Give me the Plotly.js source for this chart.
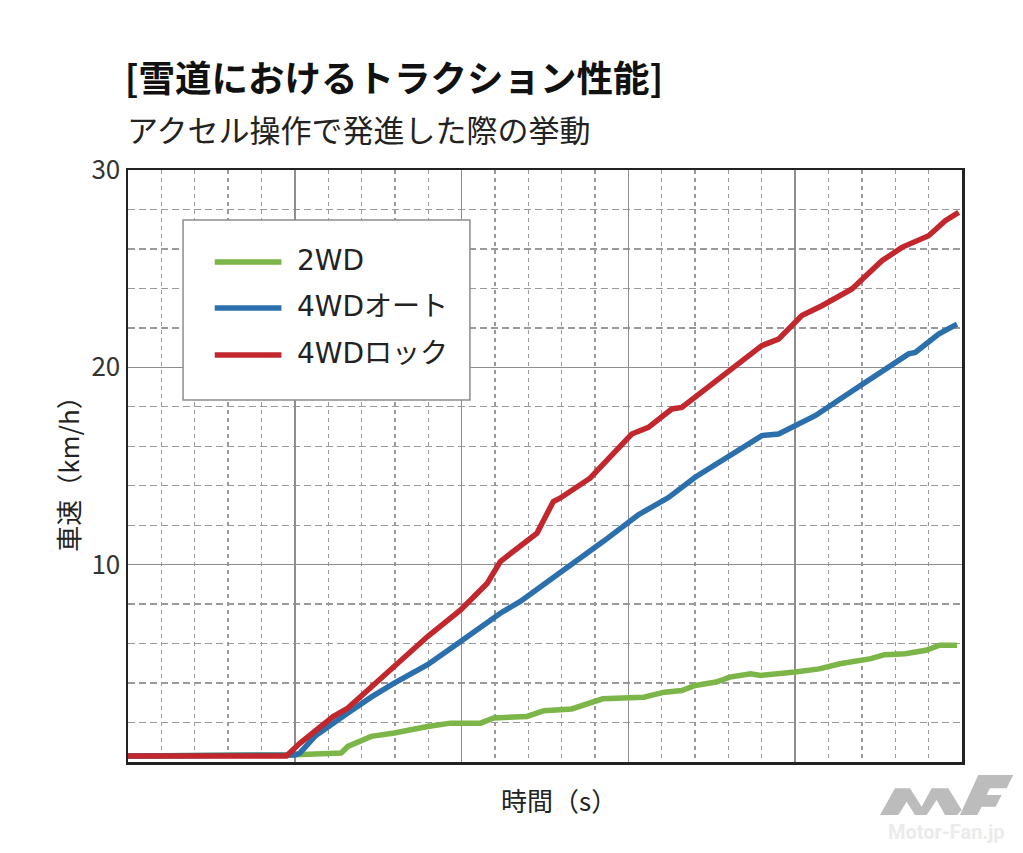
<!DOCTYPE html>
<html>
<head>
<meta charset="utf-8">
<script src="https://cdn.plot.ly/plotly-3.0.1.min.js"></script>
<style>
	html, body { margin: 0; padding: 0; background: #fff; }
	#crtTraction { width: 1023px; height: 853px; }
</style>
</head>
<body>
<div id="crtTraction"></div>
<script>
// Series names (legend order)
var seriesName = ["2WD", "4WDオート", "4WDロック"];
var seriesColor = ["#7cb548", "#2b70ac", "#c1272d"];

// 2WD : time / speed
var time2wd = [0, 5.0, 6.39, 6.59, 7.29, 7.98, 8.98, 9.67, 10.57, 10.96, 11.96, 12.47, 13.3, 14.23, 15.46, 16.08, 16.6, 17.0, 17.63, 18.04, 18.66, 18.97, 20.0, 20.72, 21.34, 21.75, 22.27, 22.68, 23.3, 23.92, 24.33, 24.85];
var speed2wd = [0.3, 0.37, 0.46, 0.79, 1.3, 1.47, 1.8, 1.97, 1.97, 2.23, 2.31, 2.6, 2.69, 3.2, 3.28, 3.54, 3.62, 3.88, 4.05, 4.3, 4.47, 4.39, 4.56, 4.72, 4.98, 5.07, 5.24, 5.44, 5.49, 5.66, 5.92, 5.92];

// 4WD auto
var timeAuto = [0, 5.0, 5.15, 5.6, 6.59, 7.3, 7.98, 8.3, 8.98, 9.97, 11.16, 11.76, 12.95, 14.24, 15.29, 16.2, 17.0, 18.1, 19.0, 19.5, 20.6, 21.8, 23.4, 23.6, 24.3, 24.85];
var speedAuto = [0.3, 0.35, 0.45, 1.3, 2.48, 3.3, 4.0, 4.3, 4.93, 6.11, 7.54, 8.14, 9.57, 11.17, 12.52, 13.4, 14.43, 15.61, 16.54, 16.62, 17.55, 18.9, 20.68, 20.76, 21.69, 22.19];

// 4WD lock
var timeLock = [0, 4.75, 5.15, 5.55, 6.15, 6.59, 7.58, 8.98, 9.97, 10.77, 11.16, 11.96, 12.26, 12.75, 12.95, 13.85, 14.85, 15.1, 15.6, 16.3, 16.6, 17.3, 18.1, 19.0, 19.5, 20.2, 20.8, 21.7, 22.6, 23.2, 24.0, 24.5, 24.9];
var speedLock = [0.3, 0.3, 0.95, 1.5, 2.3, 2.73, 4.25, 6.36, 7.71, 9.06, 10.16, 11.26, 11.6, 13.2, 13.37, 14.38, 16.2, 16.62, 16.96, 17.89, 17.97, 18.9, 19.92, 21.1, 21.43, 22.62, 23.12, 23.97, 25.4, 26.08, 26.67, 27.43, 27.85];

// y tick labels (0 is not labelled)
var speedTicks = [0, 10, 20, 30];
var speedTickText = ["", "10", "20", "30"];

var jpFont = "Noto Sans CJK JP, Noto Sans, sans-serif";
var legFont = "DejaVu Sans, Noto Sans CJK JP, sans-serif";

/**
 * Draw the traction chart
 * - one scatter line per drive mode, red drawn last so it sits on top
 * - legend is a hand made box (shapes + annotations) to get the long line samples
 */
var tractionChart = function() {
	var xs = [time2wd, timeAuto, timeLock];
	var ys = [speed2wd, speedAuto, speedLock];
	var data = [];
	for (var i = 0; i < xs.length; i++) {
		data.push({
			x: xs[i],
			y: ys[i],
			name: seriesName[i],
			type: 'scatter',
			mode: 'lines',
			line: { color: seriesColor[i], width: 5.5 },
			showlegend: false,
			hoverinfo: 'skip'
		});
	}

	// legend box
	var shapes = [{
		type: 'rect', xref: 'paper', yref: 'paper',
		x0: 0.066, x1: 0.41, y0: 0.6115, y1: 0.9155,
		fillcolor: '#ffffff', line: { color: '#8c8c8c', width: 1.5 },
		layer: 'above'
	}];
	var annotations = [];
	var legY = [0.8446, 0.7669, 0.6875];
	for (var j = 0; j < seriesName.length; j++) {
		shapes.push({
			type: 'line', xref: 'paper', yref: 'paper',
			x0: 0.104, x1: 0.184, y0: legY[j], y1: legY[j],
			line: { color: seriesColor[j], width: 5.5 },
			layer: 'above'
		});
		annotations.push({
			xref: 'paper', yref: 'paper', x: 0.2, y: legY[j] + 0.003,
			xanchor: 'left', yanchor: 'middle', showarrow: false,
			text: seriesName[j],
			font: { family: legFont, size: 28, color: '#222' }
		});
	}

	// subtitle + axis titles
	annotations.push({
		xref: 'paper', yref: 'paper', x: -0.003, y: 1.07,
		xanchor: 'left', yanchor: 'middle', showarrow: false,
		text: 'アクセル操作で発進した際の挙動',
		font: { family: jpFont, size: 31, color: '#222' }
	});
	annotations.push({
		xref: 'paper', yref: 'paper', x: -0.072, y: 0.497,
		xanchor: 'center', yanchor: 'middle', showarrow: false,
		textangle: -90,
		text: '車速（km/h）',
		font: { family: jpFont, size: 26, color: '#222' }
	});
	annotations.push({
		xref: 'paper', yref: 'paper', x: 0.445, y: -0.064,
		xanchor: 'left', yanchor: 'middle', showarrow: false,
		text: '時間（s）',
		font: { family: jpFont, size: 26, color: '#222' }
	});
	// watermark text
	annotations.push({
		xref: 'paper', yref: 'paper', x: 0.982, y: -0.118,
		xanchor: 'center', yanchor: 'middle', showarrow: false,
		text: '<b>Motor-Fan.jp</b>',
		font: { family: 'Roboto, sans-serif', size: 20, color: '#ebebeb' }
	});

	// MF logo as a small inline svg
	var logo = '<svg xmlns="http://www.w3.org/2000/svg" viewBox="0 0 489 165">' +
		'<polygon fill="#bcbcbc" points="60,165 105,85 150,85 185,140 215,85 265,85 305,150 292,165 255,165 230,120 200,165 165,165 140,125 115,165"/>' +
		'<polygon fill="#bcbcbc" points="300,165 355,45 460,45 440,85 390,85 380,105 425,105 407,140 365,140 352,165"/>' +
		'</svg>';

	var layout = {
		width: 1023,
		height: 853,
		paper_bgcolor: '#ffffff',
		plot_bgcolor: '#ffffff',
		margin: { l: 128, r: 61, t: 170, b: 91, pad: 0 },
		title: {
			text: '<b>[雪道におけるトラクション性能]</b>',
			xref: 'container', x: 0.122, xanchor: 'left',
			yref: 'container', y: 0.907, yanchor: 'middle',
			font: { family: jpFont, size: 36.5, color: '#111' }
		},
		xaxis: {
			range: [0, 25],
			tick0: 0, dtick: 5,
			showticklabels: false,
			ticks: '',
			showgrid: true, gridcolor: '#8e8e8e', gridwidth: 1.5,
			minor: { dtick: 1, showgrid: true, gridcolor: '#9a9a9a', gridwidth: 1.3, griddash: '4px,4px' },
			zeroline: false,
			showline: true, mirror: true, linecolor: '#222', linewidth: 2.5,
			fixedrange: true
		},
		yaxis: {
			range: [0, 30],
			tickmode: 'array', tickvals: speedTicks, ticktext: speedTickText,
			ticks: '',
			tickfont: { family: jpFont, size: 26, color: '#333' },
			showgrid: true, gridcolor: '#8e8e8e', gridwidth: 1.5,
			minor: { tick0: 0, dtick: 2, showgrid: true, gridcolor: '#9a9a9a', gridwidth: 1.3, griddash: '7px,4px' },
			zeroline: false,
			showline: true, mirror: true, linecolor: '#222', linewidth: 2.5,
			fixedrange: true
		},
		shapes: shapes,
		annotations: annotations,
		images: [{
			source: 'data:image/svg+xml;charset=utf-8,' + encodeURIComponent(logo),
			xref: 'paper', yref: 'paper',
			x: 0.8777, y: 0.0034, sizex: 0.1954, sizey: 0.0929,
			xanchor: 'left', yanchor: 'top', sizing: 'stretch', layer: 'above'
		}],
		showlegend: false
	};

	Plotly.newPlot('crtTraction', data, layout, { staticPlot: true });
};

tractionChart();
</script>
</body>
</html>
